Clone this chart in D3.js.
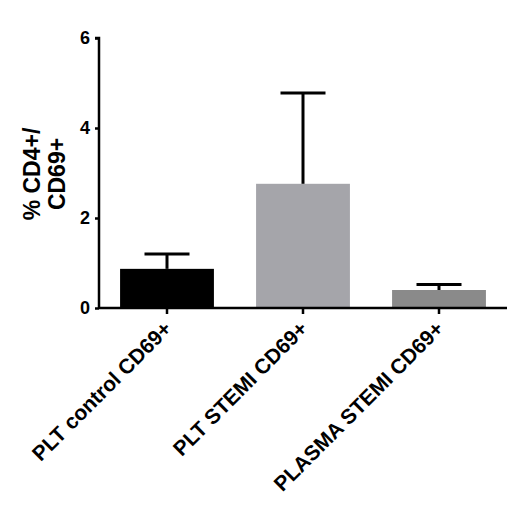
<!DOCTYPE html>
<html><head><meta charset="utf-8">
<script src="https://cdn.jsdelivr.net/npm/d3@7"></script>
<style>body{margin:0;background:#fff;} svg{display:block;}</style>
</head><body>
<svg id="chart" width="520" height="516"></svg>
<script>
const categories = ["PLT control CD69+", "PLT STEMI CD69+", "PLASMA STEMI CD69+"];
const means = [0.87, 2.76, 0.40];
const errors = [0.33, 2.02, 0.12];
const colors = ["#000000", "#a5a5aa", "#8a8a8a"];
const yTicks = [0, 2, 4, 6];

const svg = d3.select("#chart");
const x0 = 99, x1 = 507, yBottom = 308, yTop = 38;
const x = d3.scaleBand().domain(categories).range([x0, x1]).paddingInner(0.31).paddingOuter(0.155);
const y = d3.scaleLinear().domain([0, 6]).range([yBottom, yTop]);
const font = "'Liberation Sans', Arial, sans-serif";

// bars
svg.selectAll("rect.bar").data(categories).enter().append("rect")
  .attr("x", d => x(d)).attr("width", x.bandwidth())
  .attr("y", (d,i) => y(means[i])).attr("height", (d,i) => yBottom - y(means[i]))
  .attr("fill", (d,i) => colors[i]);

// error bars
const capW = 45;
categories.forEach((c,i) => {
  const cx = x(c) + x.bandwidth()/2;
  svg.append("line").attr("x1", cx).attr("x2", cx)
    .attr("y1", y(means[i])).attr("y2", y(means[i] + errors[i]))
    .attr("stroke", "#000").attr("stroke-width", 3);
  svg.append("line").attr("x1", cx - capW/2).attr("x2", cx + capW/2)
    .attr("y1", y(means[i] + errors[i])).attr("y2", y(means[i] + errors[i]))
    .attr("stroke", "#000").attr("stroke-width", 3);
});

// y axis
const yAxis = d3.axisLeft(y).tickValues(yTicks).tickSize(4).tickPadding(5).tickFormat(d3.format("d"));
const gy = svg.append("g").attr("transform", `translate(${x0},0)`).call(yAxis);
gy.select(".domain").attr("stroke", "#000").attr("stroke-width", 2.5).attr("d", `M-4,${yTop}H0V${yBottom}`);
gy.selectAll(".tick line").attr("stroke", "#000").attr("stroke-width", 2.5);
gy.selectAll(".tick text").attr("font-family", font).attr("font-weight", "bold").attr("font-size", 18).attr("fill", "#000");

// x axis
const xAxis = d3.axisBottom(x).tickSize(6).tickPadding(6);
const gx = svg.append("g").attr("transform", `translate(0,${yBottom})`).call(xAxis);
gx.select(".domain").attr("stroke", "#000").attr("stroke-width", 2.5).attr("d", `M${x0},0H${x1}`);
gx.selectAll(".tick line").attr("stroke", "#000").attr("stroke-width", 2.5);
gx.selectAll(".tick text").attr("font-family", font).attr("font-weight", "bold").attr("font-size", 21).attr("fill", "#000")
  .attr("text-anchor", "end").attr("dy", 0).attr("y", 0)
  .attr("transform", "translate(6,22) rotate(-45)");

// y label
const yl = svg.append("text").attr("transform", "translate(40,174) rotate(-90)")
  .attr("font-family", font).attr("font-weight", "bold").attr("font-size", 23).attr("text-anchor", "middle").attr("fill", "#000");
yl.append("tspan").attr("x", 0).attr("y", 0).text("% CD4+/");
yl.append("tspan").attr("x", 0).attr("y", 25).text("CD69+");
</script>
</body></html>
